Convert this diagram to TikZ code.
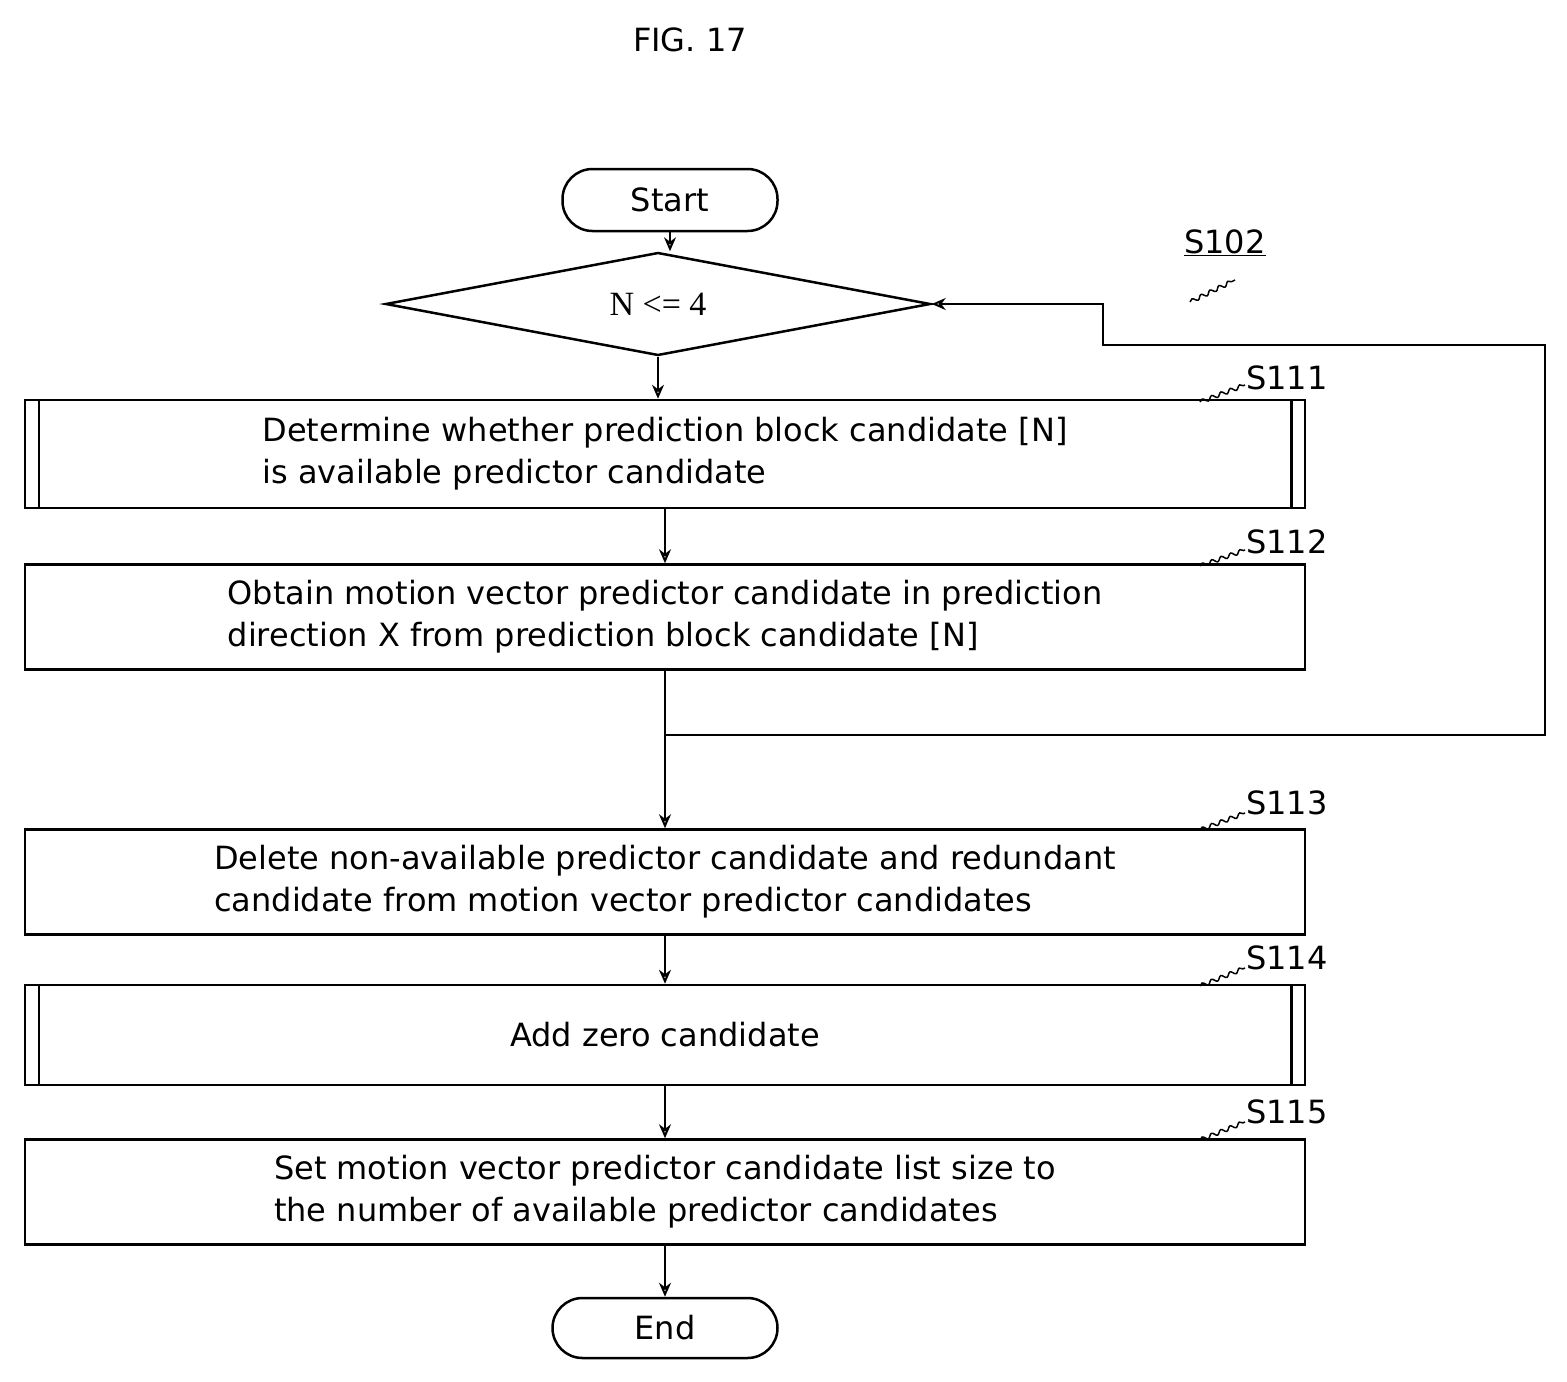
\documentclass[tikz,border=0pt]{standalone}
\usepackage{fontspec}
\setmainfont{DejaVu Sans}
\newfontfamily\serifx{Liberation Serif}
\usetikzlibrary{arrows.meta,shapes.geometric,decorations.pathmorphing}
\begin{document}
\begin{tikzpicture}[x=1pt,y=-1pt,
  box/.style={draw,line width=2.5pt,minimum width=1280pt,align=left,font=\fontsize{32}{42}\selectfont},
  term/.style={draw,line width=2.5pt,rounded corners=30pt,minimum width=215pt,minimum height=62pt,font=\fontsize{32}{36}\selectfont},
  lab/.style={font=\fontsize{32}{36}\selectfont},
  arr/.style={line width=2pt,-{Stealth[open,length=14pt,width=12pt]}},
  ln/.style={line width=2.5pt},
  sq/.style={line width=1.5pt,decorate,decoration={snake,amplitude=2pt,segment length=10pt}}]
\useasboundingbox (0,0) rectangle (1567,1382);
\node[lab] (fig) at (690,40) {FIG. 17};
\node[term] (start) at (670,200) {Start};
\node[draw,diamond,line width=2.5pt,minimum width=545pt,minimum height=103pt,aspect=5.3,inner sep=0pt,font=\serifx\fontsize{34}{38}\selectfont] (dec) at (658,304) {N <= 4};
\node[box,minimum height=108pt] (s111) at (665,454) {Determine whether prediction block candidate [N]\\is available predictor candidate};
\draw[ln] ([xshift=15pt]s111.north west) -- ([xshift=15pt]s111.south west);
\draw[ln] ([xshift=-15pt]s111.north east) -- ([xshift=-15pt]s111.south east);
\node[box,minimum height=105pt] (s112) at (665,617) {Obtain motion vector predictor candidate in prediction\\direction X from prediction block candidate [N]};
\node[box,minimum height=105pt] (s113) at (665,882) {Delete non-available predictor candidate and redundant\\candidate from motion vector predictor candidates};
\node[box,minimum height=100pt] (s114) at (665,1035) {Add zero candidate};
\draw[ln] ([xshift=15pt]s114.north west) -- ([xshift=15pt]s114.south west);
\draw[ln] ([xshift=-15pt]s114.north east) -- ([xshift=-15pt]s114.south east);
\node[box,minimum height=105pt] (s115) at (665,1192) {Set motion vector predictor candidate list size to\\the number of available predictor candidates};
\node[term,minimum width=225pt,minimum height=60pt] (end) at (665,1328) {End};
\coordinate (j) at (665,735);
\draw[arr] (start) -- (dec.north -| start);
\draw[arr] (dec.south) -- (s111.north -| dec.south);
\draw[arr] (s111) -- (s112);
\draw[ln] (s112) -- (j);
\draw[arr] (j) -- (s113);
\draw[arr] (s113) -- (s114);
\draw[arr] (s114) -- (s115);
\draw[arr] (s115) -- (end);
\draw[arr] (j) -- (1545,735) -- (1545,345) -- (1103,345) -- (1103,304) -- (dec.east);
% labels
\node[lab] (l102) at (1225,243) {\underline{S102}};
\draw[sq] (1190,302) -- (1235,280);
\node[lab] (l111) at (1287,378) {S111};
\draw[sq] (1200,402) -- (1245,385);
\node[lab] (l112) at (1287,542) {S112};
\draw[sq] (1200,566) -- (1245,550);
\node[lab] (l113) at (1287,803) {S113};
\draw[sq] (1200,830) -- (1245,813);
\node[lab] (l114) at (1287,958) {S114};
\draw[sq] (1200,986) -- (1245,968);
\node[lab] (l115) at (1287,1112) {S115};
\draw[sq] (1200,1140) -- (1245,1122);
\end{tikzpicture}
\end{document}
